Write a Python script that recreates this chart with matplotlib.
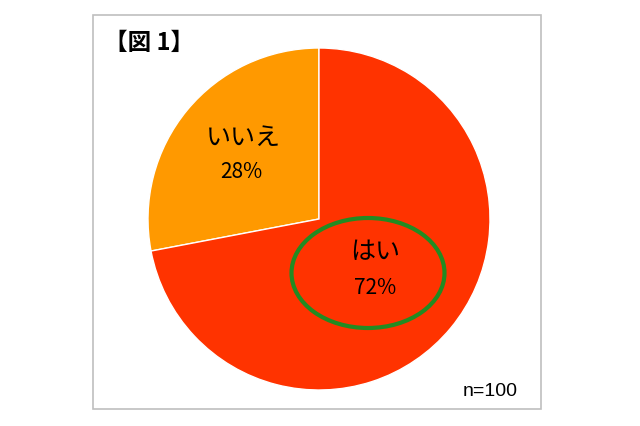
import matplotlib
matplotlib.use("Agg")
import matplotlib.pyplot as plt
from matplotlib.patches import Ellipse, Rectangle

plt.rcParams['font.family'] = ['Noto Sans CJK JP', 'DejaVu Sans']

# データ
labels = ['いいえ', 'はい']
values = [28, 72]
colors = ['#FF9900', '#FF3300']
title = '【図 1】'
note = 'n=100'

W, H = 640, 426
fig = plt.figure(figsize=(W / 100, H / 100), dpi=100)
ax = fig.add_axes([0, 0, 1, 1])

# 枠
ax.add_patch(Rectangle((93, H - 409), 448, 394, fill=False,
                       edgecolor='#BFBFBF', linewidth=1.2))

cx, cy, r = 319, H - 219, 171
wedges, _ = ax.pie(values, colors=colors, startangle=90, counterclock=True,
                   center=(cx, cy), radius=r, frame=True,
                   wedgeprops=dict(edgecolor='white', linewidth=1))
ax.set_xlim(0, W)
ax.set_ylim(0, H)
ax.set_aspect('equal')
ax.axis('off')

# ラベル
ax.text(243, H - 138, labels[0], ha='center', va='center', fontsize=18)
ax.text(241, H - 172, f'{values[0]}%', ha='center', va='center', fontsize=15)
ax.text(375, H - 252, labels[1], ha='center', va='center', fontsize=18)
ax.text(375, H - 288, f'{values[1]}%', ha='center', va='center', fontsize=15)

ax.add_patch(Ellipse((368, H - 273), 153, 110, fill=False,
                     edgecolor='#228B22', linewidth=3))

ax.text(104, H - 43, title, ha='left', va='center', fontsize=17,
        fontweight='bold')
ax.text(518, H - 392, note, ha='right', va='center', fontsize=14,
        family=['Liberation Sans', 'DejaVu Sans'])

fig.savefig('out.png', dpi=100)
